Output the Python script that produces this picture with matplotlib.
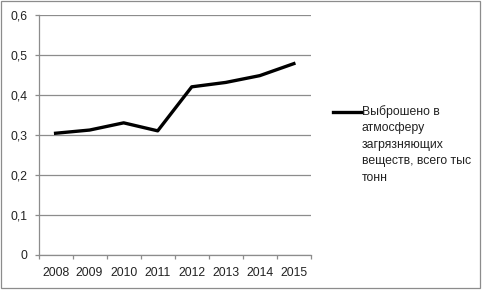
import matplotlib.pyplot as plt
from matplotlib.ticker import FuncFormatter, FixedLocator
from matplotlib.patches import Rectangle
from matplotlib.lines import Line2D

plt.rcParams["font.family"] = ["Liberation Sans", "DejaVu Sans"]

years = ["2008", "2009", "2010", "2011", "2012", "2013", "2014", "2015"]
emissions = [0.304, 0.312, 0.330, 0.310, 0.420, 0.431, 0.448, 0.478]
series_label = ["Выброшено в", "атмосферу", "загрязняющих", "веществ, всего тыс", "тонн"]

W, H = 482, 290
fig = plt.figure(figsize=(W / 100, H / 100), dpi=100)
ax = fig.add_axes([0.080, 0.121, 0.565, 0.828])

x = list(range(len(years)))
ax.plot(x, emissions, color="black", linewidth=2.4, solid_joinstyle="round", zorder=3)

ax.set_xlim(-0.5, len(years) - 0.5)
ax.set_ylim(0, 0.6)
ax.set_yticks([0, 0.1, 0.2, 0.3, 0.4, 0.5, 0.6])
ax.yaxis.set_major_formatter(FuncFormatter(lambda v, p: ("%g" % round(v, 1)).replace(".", ",")))
ax.yaxis.grid(True, color="#8c8c8c", linewidth=0.9)
ax.set_axisbelow(True)

ax.set_xticks(x)
ax.set_xticklabels(years)
ax.xaxis.set_minor_locator(FixedLocator([i - 0.5 for i in range(len(years) + 1)]))
ax.tick_params(axis="x", which="major", length=0, pad=9, labelsize=8.8, colors="#222222")
ax.tick_params(axis="x", which="minor", length=3, color="#8c8c8c", width=0.9)
ax.tick_params(axis="y", length=3, color="#8c8c8c", width=0.9, pad=5, labelsize=8.8,
               labelcolor="#222222")

for s in ["top", "right"]:
    ax.spines[s].set_visible(False)
for s in ["left", "bottom"]:
    ax.spines[s].set_color("#8c8c8c")
    ax.spines[s].set_linewidth(0.9)

# legend: handle next to first line of the wrapped label
ly = 1 - 112 / H
fig.add_artist(Line2D([333 / W, 362 / W], [ly, ly], transform=fig.transFigure,
                      color="black", linewidth=2.4))
for i, line in enumerate(series_label):
    fig.text(362 / W, 1 - (112 + i * 16.5) / H, line, fontsize=8.8, color="#222222",
             ha="left", va="center")

fig.patches.append(Rectangle((0.002, 0.008), 0.994, 0.988, transform=fig.transFigure,
                             fill=False, edgecolor="#8c8c8c", linewidth=0.9))

fig.savefig("out.png", dpi=100)
